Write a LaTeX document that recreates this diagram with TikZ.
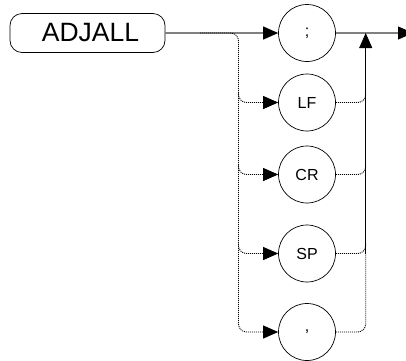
\documentclass[tikz,border=0pt]{standalone}
\usepackage{fontspec}
\setmainfont{Liberation Sans}
\usetikzlibrary{arrows.meta,calc}

\begin{document}
\begin{tikzpicture}[x=1pt,y=-1pt]
                % define styles
\tikzset{keyword/.style={draw=black,
                       line width=0.7pt,
                       rounded corners=12pt,
                       minimum width=155pt,
                       minimum height=39pt,
                       inner sep=0,
                       font=\fontsize{26.5}{26.5}\selectfont,
                       },
         token/.style={circle,
                       draw=black,
                       line width=0.7pt,
                       minimum size=57pt,
                       inner sep=0,
                       font=\fontsize{16}{16}\selectfont,
                       },
         main/.style={draw=black!50, line width=1.1pt},
         bus/.style={draw=black, line width=0.9pt,
                     dash pattern=on 1pt off 1pt,
                     rounded corners=8pt},
         tip/.style={-{Triangle[length=15pt,width=13pt,color=black]}}
}
\useasboundingbox (0,0) rectangle (406,360);

% nodes
\node[keyword] (adjall) at (87.5,33) {\hspace*{6pt}ADJALL};
\node[token]   (semi)   at (307,33)  {;};
\foreach \name/\txt/\y in {lf/LF/102.5, cr/CR/174.5, sp/SP/253.5}
    \node[token] (\name) at (307,\y) {\txt};
\node[token]   (comma)  at (307,332) {,};

% bus points
\coordinate (split) at (200,33);
\coordinate (lbus)  at (238.5,33);
\coordinate (rbus)  at (365.7,33);
\coordinate (out)   at (413,33);

% main line
\draw[main,tip] (adjall.east) -- (semi.west);
\draw[main,tip] (semi.east) -- (out);

% left bus
\draw[bus,tip] (split) -- (lbus) -- (lbus |- comma) -- (comma.west);
\foreach \name in {lf,cr,sp}
    \draw[bus,tip] ($(lbus |- \name)+(0,-10)$) -- (lbus |- \name) -- (\name.west);

% right bus
\foreach \name in {lf,cr,sp}
    \draw[bus] (\name.east) -- (rbus |- \name) -- ++(0,-10);
\draw[bus] (comma.east) -- (rbus |- comma) -- (rbus |- sp);
\draw[black,line width=0.8pt,tip] (rbus |- sp) -- (rbus);

\end{tikzpicture}
\end{document}
